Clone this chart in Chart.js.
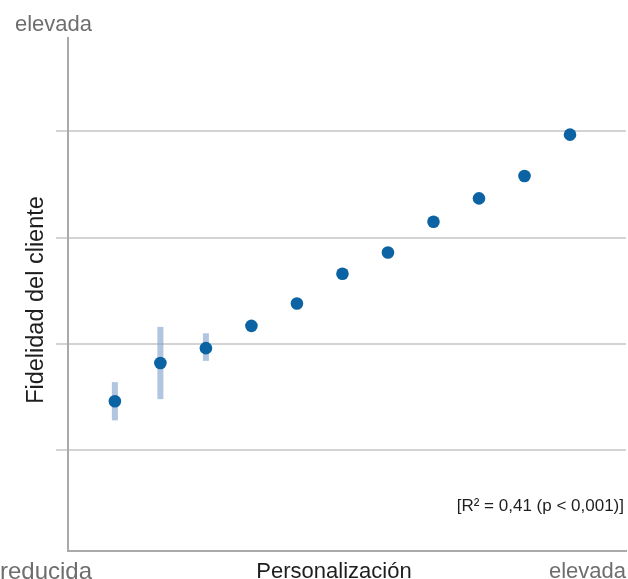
<!DOCTYPE html>
<html>
<head>
<meta charset="utf-8">
<script src="https://cdn.jsdelivr.net/npm/chart.js@4"></script>
<style>
  html, body { margin: 0; padding: 0; background: #ffffff; }
  #wrap { width: 628px; height: 579px; }
</style>
</head>
<body>
<div id="wrap"><canvas id="c" width="628" height="579"></canvas></div>
<script>
// --- Data ---
const categories = [1, 2, 3, 4, 5, 6, 7, 8, 9, 10, 11];          // personalisation levels
const fidelity   = [1.46, 1.82, 1.96, 2.17, 2.38, 2.66, 2.86, 3.15, 3.37, 3.58, 3.97];
const errLow     = [1.28, 1.48, 1.84, null, null, null, null, null, null, null, null];
const errHigh    = [1.64, 2.16, 2.10, null, null, null, null, null, null, null, null];
const yTickValues = [1, 2, 3, 4];
const labels = {
  yTop: 'elevada',
  xLeft: 'reducida',
  xRight: 'elevada',
  xTitle: 'Personalización',
  yTitle: 'Fidelidad del cliente',
  note: '[R² = 0,41 (p < 0,001)]'
};

const POINT_COLOR = '#0b63a3';
const ERR_COLOR = 'rgba(125,158,205,0.6)';
const GRID_COLOR = '#d3d3d3';
const AXIS_COLOR = '#a9a9a9';
const GREY_TEXT = '#6e6e6e';
const DARK_TEXT = '#1e1e1e';

const errorBarPlugin = {
  id: 'errorBars',
  beforeDatasetsDraw(chart) {
    const {ctx, scales: {x, y}} = chart;
    ctx.save();
    ctx.fillStyle = ERR_COLOR;
    categories.forEach((c, i) => {
      if (errLow[i] == null || errHigh[i] == null) return;
      const px = x.getPixelForValue(c);
      const top = y.getPixelForValue(errHigh[i]);
      const bot = y.getPixelForValue(errLow[i]);
      ctx.fillRect(px - 3, top, 6, bot - top);
    });
    ctx.restore();
  }
};

const textPlugin = {
  id: 'texts',
  afterDraw(chart) {
    const {ctx} = chart;
    ctx.save();
    ctx.textBaseline = 'alphabetic';
    // top label of y axis
    ctx.font = '22px "Liberation Sans", Arial, sans-serif';
    ctx.fillStyle = GREY_TEXT;
    ctx.textAlign = 'left';
    ctx.fillText(labels.yTop, 15, 31);
    ctx.textAlign = 'right';
    ctx.fillText(labels.xRight, 626, 578);
    // bottom-left label
    ctx.font = '24px "Liberation Sans", Arial, sans-serif';
    ctx.textAlign = 'left';
    ctx.fillText(labels.xLeft, 0, 579);
    // x title
    ctx.font = '22px "Liberation Sans", Arial, sans-serif';
    ctx.fillStyle = DARK_TEXT;
    ctx.textAlign = 'center';
    ctx.fillText(labels.xTitle, 334, 578);
    // y title
    ctx.save();
    ctx.translate(37, 300);
    ctx.rotate(-Math.PI / 2);
    ctx.font = '23.5px "Liberation Sans", Arial, sans-serif';
    ctx.textAlign = 'center';
    ctx.textBaseline = 'middle';
    ctx.fillText(labels.yTitle, 0, 0);
    ctx.restore();
    // note
    ctx.font = '17px "Liberation Sans", Arial, sans-serif';
    ctx.textAlign = 'right';
    ctx.textBaseline = 'middle';
    ctx.fillStyle = DARK_TEXT;
    ctx.fillText(labels.note, 624, 506);
    ctx.restore();
  }
};

new Chart(document.getElementById('c'), {
  type: 'scatter',
  data: {
    datasets: [{
      data: categories.map((c, i) => ({x: c, y: fidelity[i]})),
      backgroundColor: POINT_COLOR,
      borderColor: POINT_COLOR,
      borderWidth: 0,
      pointRadius: 6.3,
      pointHoverRadius: 6.3
    }]
  },
  options: {
    responsive: false,
    animation: false,
    events: [],
    layout: { autoPadding: false, padding: { left: 56, top: 38, right: 2, bottom: 28 } },
    plugins: { legend: { display: false }, tooltip: { enabled: false } },
    scales: {
      x: {
        type: 'linear',
        min: -0.03,
        max: 12.23,
        ticks: { display: false },
        grid: { display: true, color: 'rgba(0,0,0,0)', drawTicks: false },
        border: { display: true, color: AXIS_COLOR, width: 2 }
      },
      y: {
        type: 'linear',
        min: 0.05,
        max: 4.88,
        afterBuildTicks(axis) { axis.ticks = yTickValues.map(v => ({value: v})); },
        ticks: { display: false },
        grid: { color: GRID_COLOR, lineWidth: 2, drawTicks: true, tickLength: 12, tickColor: GRID_COLOR },
        border: { display: true, color: AXIS_COLOR, width: 2 }
      }
    }
  },
  plugins: [errorBarPlugin, textPlugin]
});
</script>
</body>
</html>
